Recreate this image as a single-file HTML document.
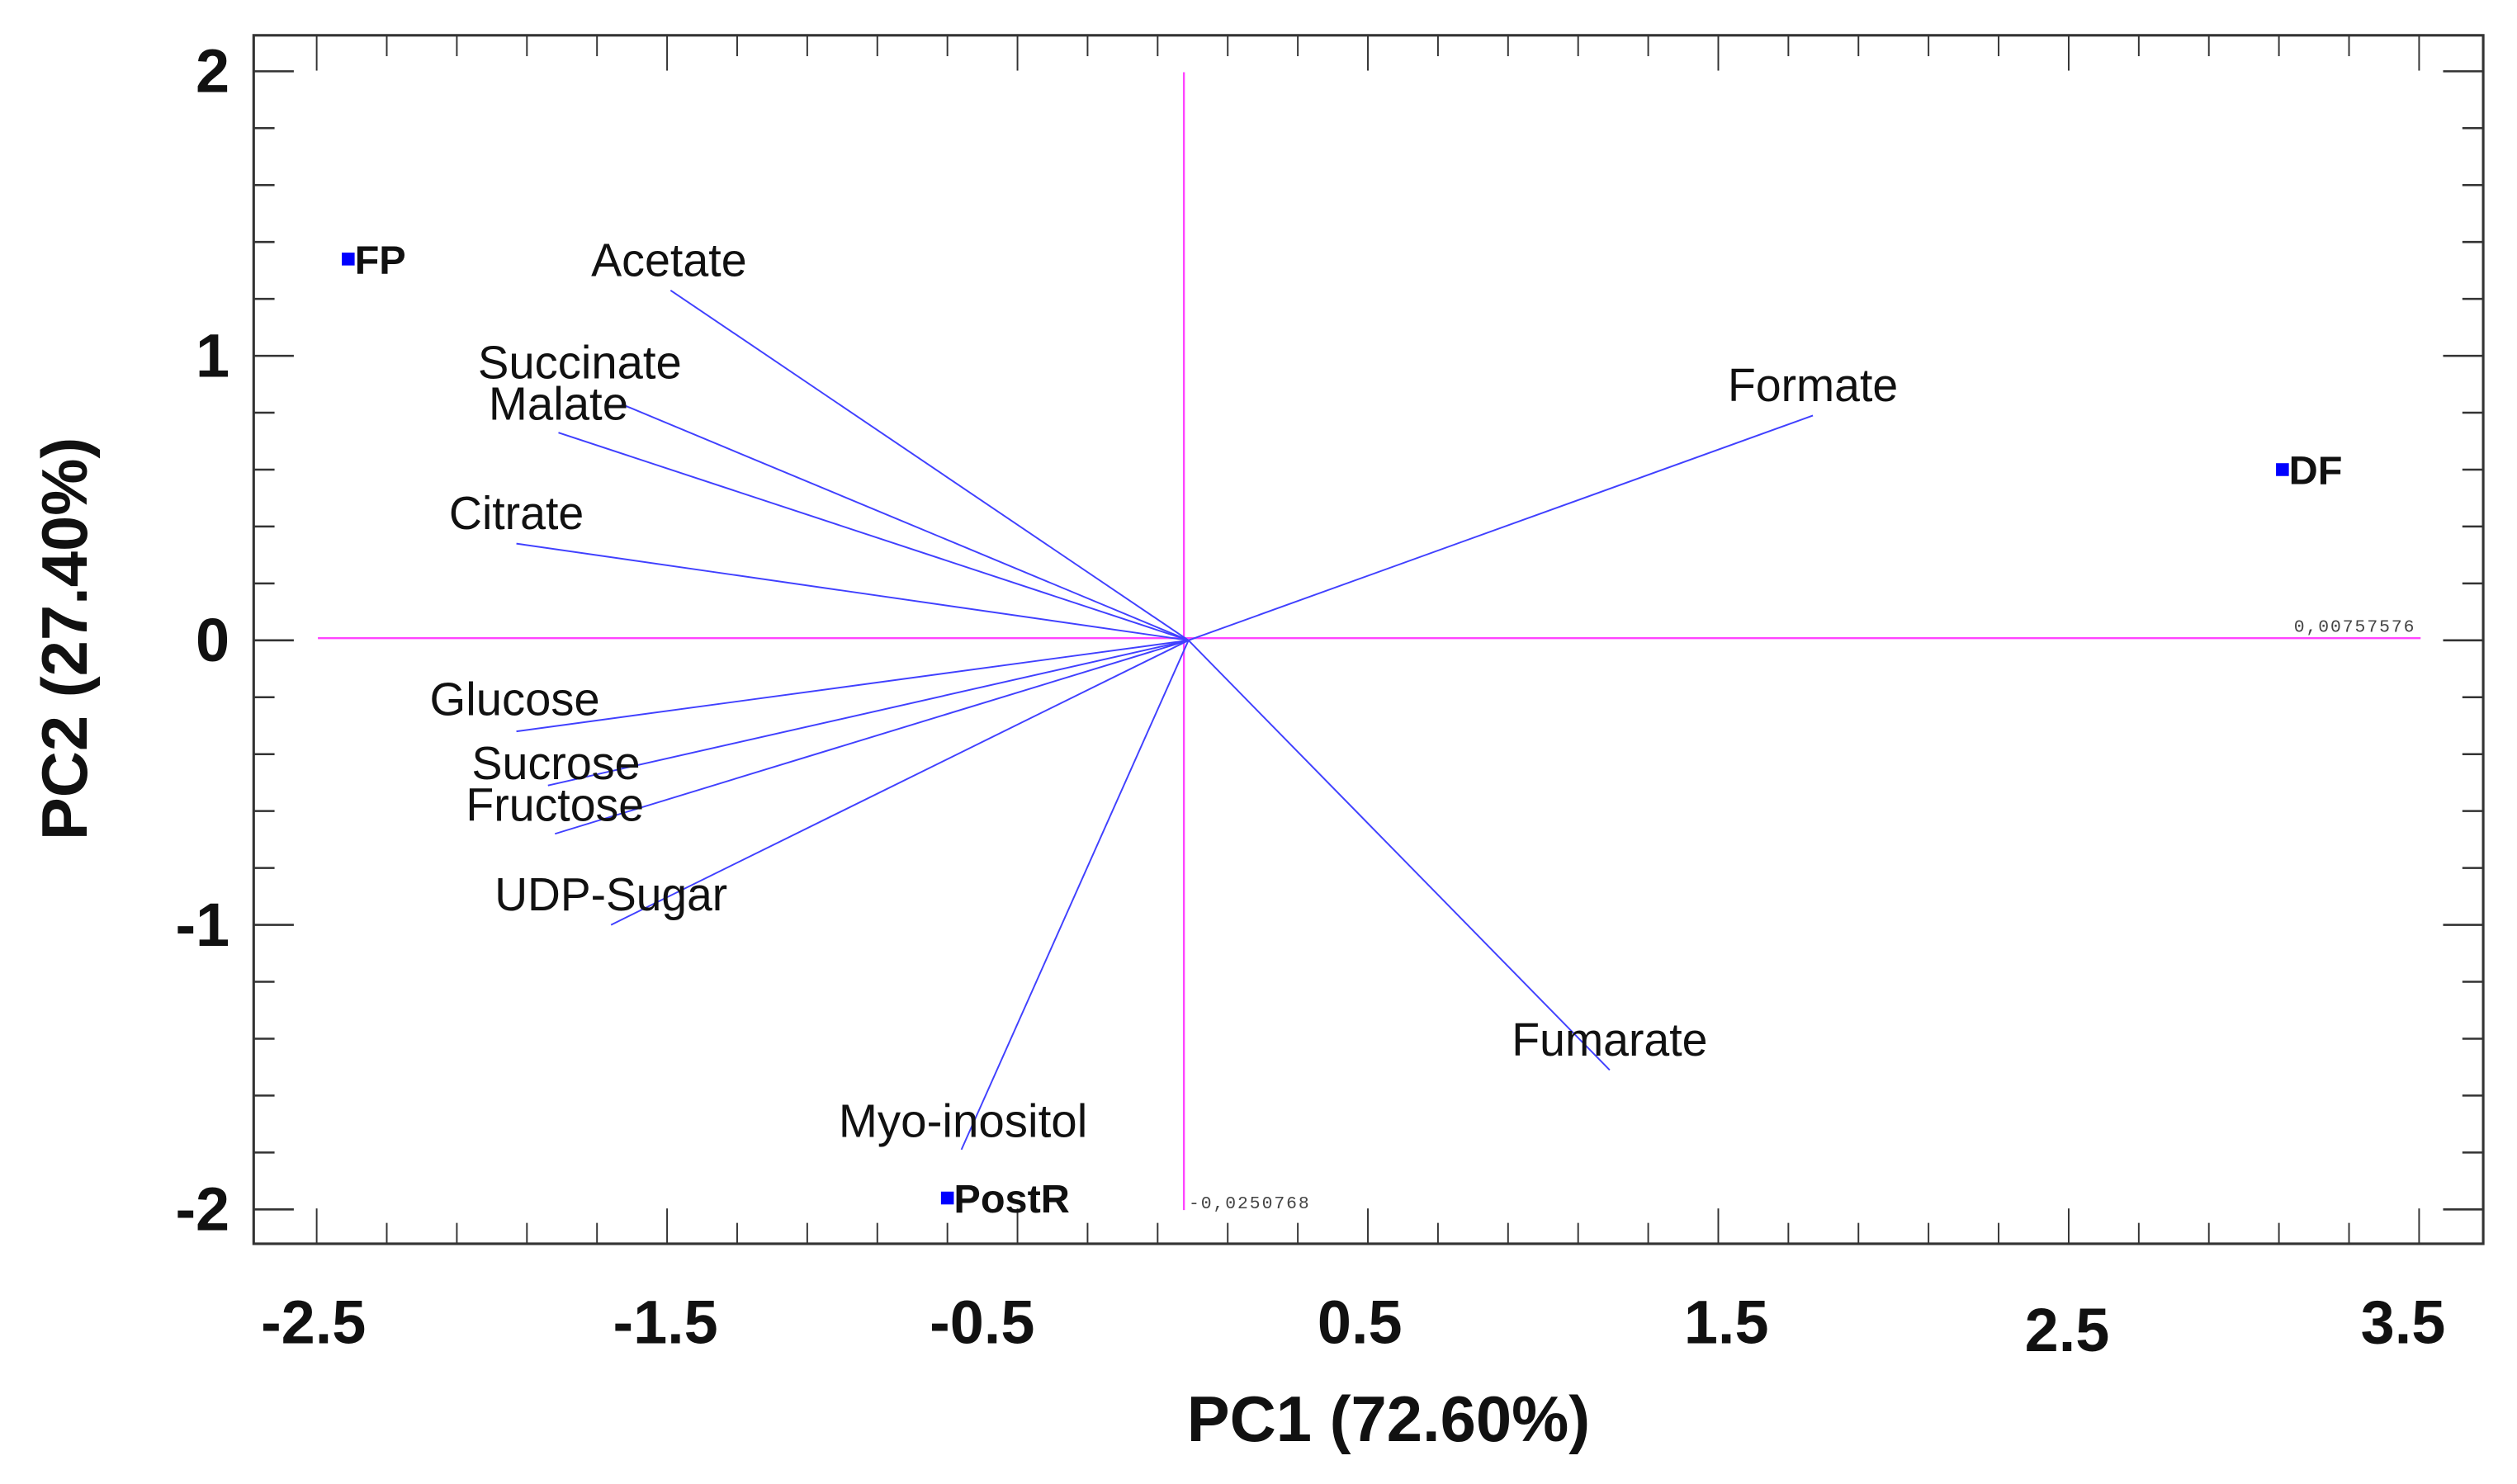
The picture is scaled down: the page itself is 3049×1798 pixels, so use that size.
<!DOCTYPE html>
<html><head><meta charset="utf-8"><style>
html,body{margin:0;padding:0;background:#fff;}
svg{display:block;}
</style></head><body>
<svg id="chart" width="3049" height="1798" viewBox="0 0 1568 924.7" xmlns="http://www.w3.org/2000/svg" font-family="'Liberation Sans', sans-serif">
<rect x="0" y="0" width="1568" height="924.7" fill="#fff"/>
<g id="axes"></g>
<g id="refs"></g>
<g id="loadings"></g>
<g id="scores"></g>
</svg>
<script>
const loadingNames = ["Acetate","Succinate","Malate","Citrate","Glucose","Sucrose","Fructose","UDP-Sugar","Myo-inositol","Fumarate","Formate"];
const loadingPC1 = [-1.49,-1.63,-1.81,-1.93,-1.93,-1.84,-1.82,-1.66,-0.66,1.19,1.77];
const loadingPC2 = [1.23,0.83,0.73,0.34,-0.32,-0.51,-0.68,-1.00,-1.79,-1.51,0.79];
const scoreNames = ["FP","DF","PostR"];
const scorePC1 = [-2.41,3.11,-0.70];
const scorePC2 = [1.34,0.60,-1.96];
const xTickLabels = ["-2.5","-1.5","-0.5","0.5","1.5","2.5","3.5"];
const xTickValues = [-2.5,-1.5,-0.5,0.5,1.5,2.5,3.5];
const yTickLabels = ["2","1","0","-1","-2"];
const yTickValues = [2,1,0,-1,-2];
const refX = -0.0250768;
const refY = 0.00757576;
const originPC1 = -0.012;
const originPC2 = 0.0;

const NS="http://www.w3.org/2000/svg";
const sx = v => 743 + v*218.3;
const sy = v => 399 - v*177.3;
function mk(tag, attrs, parent){const e=document.createElementNS(NS,tag);for(const k in attrs)e.setAttribute(k,attrs[k]);parent.appendChild(e);return e;}
const axes=document.getElementById('axes'), refs=document.getElementById('refs'), lg=document.getElementById('loadings'), sg=document.getElementById('scores');

const L=158,T=22,R=1547,B=775;
const frame=mk('rect',{x:L,y:T,width:R-L,height:B-T,fill:'none',stroke:'#333','stroke-width':1.6},axes);


for(let i=0;i<=30;i++){
  const v=-2.5+i*0.2, x=sx(v), major=(i%5===0);
  const len=major?22:13;
  const t1=mk('line',{x1:x,y1:B,x2:x,y2:B-len,stroke:'#333','stroke-width':1},axes);
  
  
  const t2=mk('line',{x1:x,y1:T,x2:x,y2:T+len,stroke:'#333','stroke-width':1},axes);
  
  
}
for(let i=0;i<=20;i++){
  const v=-2+i*0.2, y=sy(v), major=(i%5===0);
  const len=major?25:13;
  const t1=mk('line',{x1:L,y1:y,x2:L+len,y2:y,stroke:'#333','stroke-width':1.3},axes);
  
  
  const t2=mk('line',{x1:R,y1:y,x2:R-len,y2:y,stroke:'#333','stroke-width':1.3},axes);
  
  
}
const xLabelDX=[-2,-1,-22,-5,5,-1,-10];
xTickLabels.forEach((lab,i)=>{
  const t=mk('text',{x:sx(xTickValues[i])+xLabelDX[i],y:(lab==="2.5"?842:837),'text-anchor':'middle','font-size':38,'font-weight':'bold',fill:'#111'},axes);
  t.textContent=lab;
  
  
});
yTickLabels.forEach((lab,i)=>{
  const t=mk('text',{x:143,y:sy(yTickValues[i])+13,'text-anchor':'end','font-size':38,'font-weight':'bold',fill:'#111'},axes);
  t.textContent=lab;
  
  
});
const xt=mk('text',{x:865,y:898,'text-anchor':'middle','font-size':40,'font-weight':'bold',fill:'#111'},axes);
xt.textContent="PC1 (72.60%)";


const yt=mk('text',{x:0,y:0,'text-anchor':'middle','font-size':40,'font-weight':'bold',fill:'#111',transform:'translate(54,398) rotate(-90)'},axes);
yt.textContent="PC2 (27.40%)";



const hl=mk('line',{x1:198,y1:sy(refY),x2:1508,y2:sy(refY),stroke:'#ff44ff','stroke-width':1.2},refs);


const vl=mk('line',{x1:sx(refX),y1:45,x2:sx(refX),y2:754,stroke:'#ff44ff','stroke-width':1.2},refs);


const hlab=mk('text',{x:1505,y:sy(refY)-4,'text-anchor':'end','font-size':11,fill:'#444','font-family':"'Liberation Mono', monospace",'letter-spacing':'1'},refs);
hlab.textContent="0,00757576";


const vlab=mk('text',{x:sx(refX)+3,y:753,'font-size':11,fill:'#444','font-family':"'Liberation Mono', monospace",'letter-spacing':'1'},refs);
vlab.textContent="-0,0250768";



const labelDX=[-1,-26,0,0,-1,5,0,0,1,0,0];
const labelDY=[-9,-16,-8,-9,-10,-4,-8,-9,-8,-9,-9];
const labelW=[97,127,87,84,106,105,111,145,155,122,106];
loadingNames.forEach((n,i)=>{
  const x=sx(loadingPC1[i]), y=sy(loadingPC2[i]);
  const l=mk('line',{x1:sx(originPC1),y1:sy(originPC2),x2:x,y2:y,stroke:'#4040ff','stroke-width':1},lg);
  
  
  const t=mk('text',{x:x+labelDX[i],y:y+labelDY[i],'text-anchor':'middle','font-size':29,fill:'#111',textLength:labelW[i],lengthAdjust:'spacingAndGlyphs'},lg);
  t.textContent=n;
  
  
});
scoreNames.forEach((n,i)=>{
  const x=sx(scorePC1[i]), y=sy(scorePC2[i]);
  const r=mk('rect',{x:x-4,y:y-4,width:8,height:8,fill:'#0000ff'},sg);
  
  
  const t=mk('text',{x:x+4,y:y+9,'font-size':25,'font-weight':'bold',fill:'#111'},sg);
  t.textContent=n;
  
  
});
</script>
</body></html>
